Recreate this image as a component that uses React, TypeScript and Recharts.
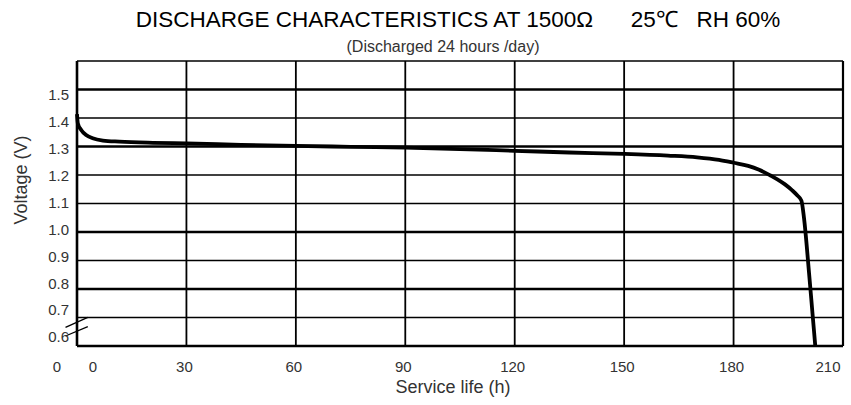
import React from 'react';
import { LineChart, Line, XAxis, YAxis, ReferenceLine } from 'recharts';

// ---- data ----
const hours = [0, 0.23, 1.15, 2.5, 4.3, 7.1, 11.6, 20.8, 30, 45, 60, 75, 90, 105, 120, 135, 150, 162, 170, 176, 180, 184, 187, 190, 192, 194, 196, 197.5, 198.6, 199.3, 200.7, 201.6, 202.4];
const voltage = [1.414, 1.381, 1.358, 1.34, 1.329, 1.321, 1.317, 1.313, 1.311, 1.306, 1.302, 1.299, 1.296, 1.291, 1.285, 1.279, 1.274, 1.268, 1.262, 1.253, 1.243, 1.232, 1.218, 1.199, 1.185, 1.168, 1.147, 1.128, 1.11, 1.05, 0.855, 0.72, 0.6];

const xTicks = [0, 30, 60, 90, 120, 150, 180, 210];
const yTicks = [0.6, 0.7, 0.8, 0.9, 1.0, 1.1, 1.2, 1.3, 1.4, 1.5];
const yMajor = [1.5, 1.3, 1.0, 0.8];
// axis break mark "//" (data coordinates)
const breakMarks = [
  [{ x: -3.15, y: 0.6656 }, { x: 2.96, y: 0.7007 }],
  [{ x: -3.15, y: 0.635 }, { x: 2.96, y: 0.6677 }],
];

const title = 'DISCHARGE CHARACTERISTICS AT 1500\u03A9      25\u2103   RH 60%';
const subtitle = '(Discharged 24 hours /day)';
const xTitle = 'Service life (h)';
const yTitle = 'Voltage (V)';

const data = hours.map((h, i) => ({ h, v: voltage[i] }));

const FONT = '"Liberation Sans", Arial, sans-serif';
const TICK_COLOR = '#333';

const XTick = (props: any) => {
  const { x, y, payload } = props;
  const v = payload.value;
  const common = { y, dy: 18, fill: TICK_COLOR, fontSize: 15, fontFamily: FONT, textAnchor: 'middle' as const };
  if (v === 0) {
    return (
      <g>
        <text {...common} x={x - 20}>0</text>
        <text {...common} x={x + 16}>0</text>
      </g>
    );
  }
  if (v === 210) {
    return <text {...common} x={x - 15}>{v}</text>;
  }
  return <text {...common} x={x - 2}>{v}</text>;
};

export default function App() {
  const W = 851;
  const H = 405;
  return (
    <div style={{ position: 'absolute', left: 0, top: 0, width: W, height: H, background: '#fff' }}>
      <LineChart width={W} height={H} data={data} margin={{ top: 61, right: 8, bottom: 29, left: 0 }}>
        <XAxis
          dataKey="h"
          type="number"
          domain={[0, 210]}
          ticks={xTicks}
          interval={0}
          axisLine={false}
          tickLine={false}
          height={30}
          tick={<XTick />}
        />
        <YAxis yAxisId="v" type="number" domain={[0.6, 1.6]} hide />
        <YAxis
          yAxisId="lbl"
          type="number"
          domain={[0.5665, 1.6264]}
          ticks={yTicks}
          interval={0}
          allowDataOverflow
          axisLine={false}
          tickLine={false}
          width={77}
          tick={{ fill: TICK_COLOR, fontSize: 15, fontFamily: FONT }}
          tickFormatter={(t: number) => t.toFixed(1)}
        />
        {xTicks.slice(1, -1).map((t) => (
          <ReferenceLine key={'vx' + t} x={t} yAxisId="v" stroke="#000" strokeWidth={1.8} />
        ))}
        {yTicks.slice(1).map((t) => (
          <ReferenceLine
            key={'hy' + t}
            y={t}
            yAxisId="v"
            stroke="#000"
            strokeWidth={yMajor.includes(t) ? 2.3 : 1.4}
          />
        ))}
        <ReferenceLine y={1.6} yAxisId="v" stroke="#000" strokeWidth={1.6} />
        <ReferenceLine y={0.6} yAxisId="v" stroke="#000" strokeWidth={2.6} />
        <ReferenceLine x={0} yAxisId="v" stroke="#000" strokeWidth={2.6} />
        <ReferenceLine x={210} yAxisId="v" stroke="#000" strokeWidth={2.2} />
        {breakMarks.map((seg, i) => (
          <ReferenceLine key={'bk' + i} yAxisId="v" segment={seg} ifOverflow="visible" stroke="#000" strokeWidth={1.3} />
        ))}
        <Line
          yAxisId="v"
          type="monotone"
          dataKey="v"
          stroke="#000"
          strokeWidth={3.8}
          dot={false}
          isAnimationActive={false}
        />
      </LineChart>
      <svg width={W} height={H} style={{ position: 'absolute', left: 0, top: 0, pointerEvents: 'none' }}>
        <text x={458} y={27} textAnchor="middle" fontSize={22.5} fontFamily={FONT} fill="#000" style={{ whiteSpace: 'pre' }}>
          {title}
        </text>
        <text x={443} y={52} textAnchor="middle" fontSize={16} fontFamily={FONT} fill="#333">
          {subtitle}
        </text>
        <text x={453} y={393} textAnchor="middle" fontSize={18} fontFamily={FONT} fill="#333">
          {xTitle}
        </text>
        <text
          x={21}
          y={180}
          textAnchor="middle"
          dominantBaseline="central"
          fontSize={18}
          fontFamily={FONT}
          fill="#333"
          transform="rotate(-90 21 180)"
        >
          {yTitle}
        </text>
      </svg>
    </div>
  );
}
